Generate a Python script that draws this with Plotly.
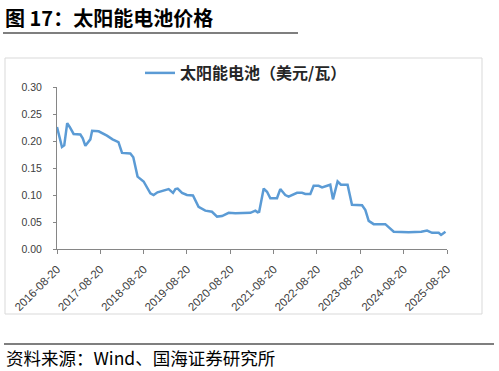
import plotly.graph_objects as go

# ---- data ----
dates = [
    "2016-08-20", "2016-09-10", "2016-10-01", "2016-10-20", "2016-11-14", "2016-12-05",
    "2017-01-07", "2017-03-05", "2017-03-25", "2017-04-16", "2017-05-14", "2017-05-28",
    "2017-06-12", "2017-08-06", "2017-10-15", "2017-12-01", "2018-01-20", "2018-02-19",
    "2018-04-30", "2018-05-25", "2018-06-30", "2018-08-20", "2018-10-16", "2018-11-12",
    "2018-12-15", "2019-02-05", "2019-03-19", "2019-04-25", "2019-05-15", "2019-06-03",
    "2019-07-10", "2019-08-20", "2019-10-10", "2019-11-26", "2020-01-22", "2020-03-18",
    "2020-04-30", "2020-06-11", "2020-08-06", "2020-10-01", "2020-12-01", "2021-02-05",
    "2021-03-19", "2021-04-07", "2021-04-20", "2021-05-28", "2021-06-25", "2021-07-23",
    "2021-09-17", "2021-10-15", "2021-11-26", "2021-12-24", "2022-03-05", "2022-04-16",
    "2022-05-14", "2022-06-25", "2022-07-23", "2022-09-03", "2022-10-02", "2022-11-26",
    "2022-12-10", "2023-01-02", "2023-02-10", "2023-03-10", "2023-05-05", "2023-06-11",
    "2023-09-04", "2023-10-02", "2023-10-30", "2023-12-11", "2024-03-18", "2024-05-28",
    "2024-10-01", "2025-01-15", "2025-03-05", "2025-04-16", "2025-06-11", "2025-07-01",
    "2025-08-07",
]
prices = [
    0.226, 0.205, 0.189, 0.192, 0.233, 0.226,
    0.213, 0.212, 0.205, 0.191, 0.200, 0.203,
    0.219, 0.218, 0.210, 0.203, 0.198, 0.178,
    0.177, 0.170, 0.134, 0.125, 0.103, 0.100,
    0.105, 0.108, 0.111, 0.104, 0.111, 0.112,
    0.104, 0.100, 0.099, 0.078, 0.071, 0.069,
    0.060, 0.061, 0.067, 0.066, 0.067, 0.067,
    0.071, 0.068, 0.069, 0.112, 0.106, 0.094,
    0.094, 0.111, 0.100, 0.097, 0.104, 0.104,
    0.102, 0.102, 0.117, 0.117, 0.114, 0.119,
    0.119, 0.092, 0.125, 0.119, 0.119, 0.082,
    0.081, 0.072, 0.052, 0.046, 0.046, 0.032,
    0.031, 0.032, 0.034, 0.030, 0.030, 0.026,
    0.032,
]
tick_dates = ["2016-08-20", "2017-08-20", "2018-08-20", "2019-08-20", "2020-08-20",
              "2021-08-20", "2022-08-20", "2023-08-20", "2024-08-20", "2025-08-20"]
tick_labels = list(tick_dates)
series_name = "太阳能电池（美元/瓦）"
title_text = "图 17：太阳能电池价格"
source_text = "资料来源：Wind、国海证券研究所"

# ---- layout geometry (pixels) ----
W, H = 499, 371
L, R, T, B = 57, 52, 87, 122
PW, PH = W - L - R, H - T - B


def px(x):
    return (x - L) / PW


def py(y):
    return (H - B - y) / PH


CJK = "Noto Sans CJK SC"

fig = go.Figure()
fig.add_trace(go.Scatter(
    x=dates, y=prices, mode="lines", name=series_name,
    line=dict(color="#5B9BD5", width=2.5),
))

fig.update_layout(
    width=W, height=H,
    margin=dict(l=L, r=R, t=T, b=B, pad=0),
    paper_bgcolor="white", plot_bgcolor="white",
    font=dict(family=CJK, color="#404040"),
    showlegend=True,
    legend=dict(
        orientation="h", x=px(140), xanchor="left", y=py(73), yanchor="middle",
        font=dict(family=CJK, size=16, color="#262626", weight="bold"),
        bgcolor="rgba(0,0,0,0)", borderwidth=0,
    ),
    xaxis=dict(
        type="date", range=["2016-08-20", "2025-08-20"],
        tickvals=tick_dates, ticktext=tick_labels, tickangle=-45,
        tickfont=dict(family="Liberation Sans", size=11.5, color="#404040"),
        ticklabelstandoff=4,
        showline=True, linecolor="#868686", linewidth=1,
        ticks="outside", ticklen=4, tickcolor="#868686",
        showgrid=False, zeroline=False,
    ),
    yaxis=dict(
        range=[0, 0.30], dtick=0.05, tickformat=".2f",
        tickfont=dict(family="Liberation Sans", size=10.5, color="#404040"),
        ticklabelstandoff=9,
        showline=True, linecolor="#868686", linewidth=1,
        ticks="outside", ticklen=3, tickcolor="#868686",
        showgrid=False, zeroline=False,
    ),
)

# title
fig.add_annotation(
    text=title_text, xref="paper", yref="paper", x=px(3), y=py(17),
    xanchor="left", yanchor="middle", showarrow=False,
    font=dict(family=CJK, size=20, color="#000000", weight="bold"),
)
# source
fig.add_annotation(
    text=source_text, xref="paper", yref="paper", x=px(4), y=py(357),
    xanchor="left", yanchor="middle", showarrow=False,
    font=dict(family=CJK, size=17.5, color="#000000"),
)
# title underline
fig.add_shape(type="line", xref="paper", yref="paper",
              x0=px(3), x1=px(298), y0=py(33), y1=py(33),
              line=dict(color="#7F7F7F", width=2))
# source line
fig.add_shape(type="line", xref="paper", yref="paper",
              x0=px(4), x1=px(494), y0=py(344), y1=py(344),
              line=dict(color="#7F7F7F", width=2))
# chart frame
fig.add_shape(type="rect", xref="paper", yref="paper",
              x0=px(5), x1=px(482), y0=py(314), y1=py(58),
              line=dict(color="#D9D9D9", width=1), fillcolor="rgba(0,0,0,0)",
              layer="below")

fig.write_html("out.html",
               config={"displayModeBar": False},
               post_script="document.body.style.margin='0';document.body.style.overflow='hidden';")
